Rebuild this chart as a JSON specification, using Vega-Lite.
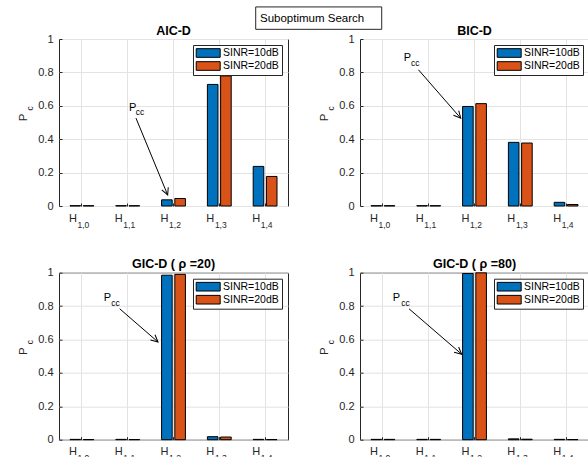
{
  "$schema": "https://vega.github.io/schema/vega-lite/v6.json",
  "background": "white",
  "padding": {"left": 16, "top": 5, "right": 0, "bottom": 0},
  "data": {"values": [
    {"panel": "AIC", "h": "1,0", "sinr": "SINR=10dB", "pc": 0.002},
    {"panel": "AIC", "h": "1,0", "sinr": "SINR=20dB", "pc": 0.002},
    {"panel": "AIC", "h": "1,1", "sinr": "SINR=10dB", "pc": 0.002},
    {"panel": "AIC", "h": "1,1", "sinr": "SINR=20dB", "pc": 0.002},
    {"panel": "AIC", "h": "1,2", "sinr": "SINR=10dB", "pc": 0.037},
    {"panel": "AIC", "h": "1,2", "sinr": "SINR=20dB", "pc": 0.045},
    {"panel": "AIC", "h": "1,3", "sinr": "SINR=10dB", "pc": 0.728},
    {"panel": "AIC", "h": "1,3", "sinr": "SINR=20dB", "pc": 0.779},
    {"panel": "AIC", "h": "1,4", "sinr": "SINR=10dB", "pc": 0.237},
    {"panel": "AIC", "h": "1,4", "sinr": "SINR=20dB", "pc": 0.177},
    {"panel": "BIC", "h": "1,0", "sinr": "SINR=10dB", "pc": 0.002},
    {"panel": "BIC", "h": "1,0", "sinr": "SINR=20dB", "pc": 0.002},
    {"panel": "BIC", "h": "1,1", "sinr": "SINR=10dB", "pc": 0.002},
    {"panel": "BIC", "h": "1,1", "sinr": "SINR=20dB", "pc": 0.002},
    {"panel": "BIC", "h": "1,2", "sinr": "SINR=10dB", "pc": 0.596},
    {"panel": "BIC", "h": "1,2", "sinr": "SINR=20dB", "pc": 0.613},
    {"panel": "BIC", "h": "1,3", "sinr": "SINR=10dB", "pc": 0.381},
    {"panel": "BIC", "h": "1,3", "sinr": "SINR=20dB", "pc": 0.377},
    {"panel": "BIC", "h": "1,4", "sinr": "SINR=10dB", "pc": 0.022},
    {"panel": "BIC", "h": "1,4", "sinr": "SINR=20dB", "pc": 0.009},
    {"panel": "GIC20", "h": "1,0", "sinr": "SINR=10dB", "pc": 0.002},
    {"panel": "GIC20", "h": "1,0", "sinr": "SINR=20dB", "pc": 0.001},
    {"panel": "GIC20", "h": "1,1", "sinr": "SINR=10dB", "pc": 0.002},
    {"panel": "GIC20", "h": "1,1", "sinr": "SINR=20dB", "pc": 0.001},
    {"panel": "GIC20", "h": "1,2", "sinr": "SINR=10dB", "pc": 0.985},
    {"panel": "GIC20", "h": "1,2", "sinr": "SINR=20dB", "pc": 0.99},
    {"panel": "GIC20", "h": "1,3", "sinr": "SINR=10dB", "pc": 0.018},
    {"panel": "GIC20", "h": "1,3", "sinr": "SINR=20dB", "pc": 0.016},
    {"panel": "GIC20", "h": "1,4", "sinr": "SINR=10dB", "pc": 0.002},
    {"panel": "GIC20", "h": "1,4", "sinr": "SINR=20dB", "pc": 0.001},
    {"panel": "GIC80", "h": "1,0", "sinr": "SINR=10dB", "pc": 0.002},
    {"panel": "GIC80", "h": "1,0", "sinr": "SINR=20dB", "pc": 0.002},
    {"panel": "GIC80", "h": "1,1", "sinr": "SINR=10dB", "pc": 0.002},
    {"panel": "GIC80", "h": "1,1", "sinr": "SINR=20dB", "pc": 0.002},
    {"panel": "GIC80", "h": "1,2", "sinr": "SINR=10dB", "pc": 0.995},
    {"panel": "GIC80", "h": "1,2", "sinr": "SINR=20dB", "pc": 0.999},
    {"panel": "GIC80", "h": "1,3", "sinr": "SINR=10dB", "pc": 0.005},
    {"panel": "GIC80", "h": "1,3", "sinr": "SINR=20dB", "pc": 0.003},
    {"panel": "GIC80", "h": "1,4", "sinr": "SINR=10dB", "pc": 0.002},
    {"panel": "GIC80", "h": "1,4", "sinr": "SINR=20dB", "pc": 0.001}
  ]},
  "columns": 2,
  "spacing": {"row": 66.7, "column": 72},
  "bounds": "flush",
  "resolve": {"scale": {"color": "independent"}, "legend": {"color": "independent"}},
  "concat": [
    {
      "width": 229, "height": 167,
      "title": {"text": "AIC-D", "dy": 37},
      "resolve": {"scale": {"x": "independent", "y": "independent"}},
      "layer": [
        {
          "transform": [{"filter": "datum.panel === 'AIC'"}],
          "layer": [
            {
              "mark": {"type": "bar", "stroke": "black", "strokeWidth": 1},
              "encoding": {
                "x": {"field": "h", "type": "nominal", "sort": ["1,0","1,1","1,2","1,3","1,4"], "title": null, "scale": {"paddingInner": 0.48, "paddingOuter": 0.24}, "axis": {"labelExpr": "'H'", "labelAngle": 0, "labelOffset": -9, "grid": true, "bandPosition": 0.5, "ticks": true, "tickSize": -3, "labelPadding": 9, "labelBaseline": "top"}},
                "xOffset": {"field": "sinr", "type": "nominal", "scale": {"paddingInner": 0.2, "paddingOuter": 0}},
                "y": {"field": "pc", "type": "quantitative", "title": "P", "scale": {"domain": [0, 1], "nice": false}, "axis": {"values": [0, 0.2, 0.4, 0.6, 0.8, 1], "format": "~g", "labelOverlap": false, "labelFlush": false, "grid": true, "ticks": true, "tickSize": -3, "labelPadding": 9, "titleAngle": 270, "titleX": -33, "titleY": 78, "titleAlign": "center", "titleBaseline": "alphabetic", "titleFontSize": 11.5}},
                "color": {"field": "sinr", "type": "nominal", "title": null, "scale": {"domain": ["SINR=10dB", "SINR=20dB"], "range": ["#0072BD", "#D95319"]}, "legend": {"orient": "top-right"}}
              }
            },
            {
              "transform": [{"filter": "datum.sinr === 'SINR=10dB'"}],
              "mark": {"type": "text", "dy": 21.5, "dx": 1.5, "fontSize": 8.5, "baseline": "alphabetic", "align": "center", "color": "#262626"},
              "encoding": {"x": {"field": "h", "type": "nominal", "sort": ["1,0","1,1","1,2","1,3","1,4"]}, "y": {"datum": 0, "type": "quantitative", "title": "P", "axis": {"values": [0, 0.2, 0.4, 0.6, 0.8, 1], "format": "~g", "labelOverlap": false, "labelFlush": false, "grid": true, "ticks": true, "tickSize": -3, "labelPadding": 9, "titleAngle": 270, "titleX": -33, "titleY": 78, "titleAlign": "center", "titleBaseline": "alphabetic", "titleFontSize": 11.5}}, "text": {"field": "h"}}
            }
          ]
        },
        {
          "data": {"values": [{}]},
          "layer": [
            {"mark": {"type": "rect", "fill": "white", "stroke": "#262626", "strokeWidth": 1},
             "encoding": {"x": {"datum": 4.795, "type": "quantitative", "scale": {"domain": [0.5, 5.5], "nice": false, "zero": false}, "axis": null}, "x2": {"datum": 7.546}, "y": {"datum": 1.192, "type": "quantitative", "scale": {"domain": [0, 1], "nice": false, "zero": false}, "axis": null}, "y2": {"datum": 1.058}}},
            {"mark": {"type": "text", "text": "Suboptimum Search", "fontSize": 11.5, "align": "left", "baseline": "alphabetic", "color": "black"},
             "encoding": {"x": {"datum": 4.889, "type": "quantitative"}, "y": {"datum": 1.102, "type": "quantitative"}}},
            {"mark": {"type": "rule", "color": "black", "strokeWidth": 1},
             "encoding": {"x": {"datum": 2.181, "type": "quantitative"}, "y": {"datum": 0.526, "type": "quantitative"}, "x2": {"datum": 2.873}, "y2": {"datum": 0.066}}},
            {"mark": {"type": "point", "shape": "M-0.5,-1L0,0L0.5,-1", "filled": false, "color": "black", "strokeWidth": 1, "size": 196, "angle": -22.5, "opacity": 1},
             "encoding": {"x": {"datum": 2.873, "type": "quantitative"}, "y": {"datum": 0.066, "type": "quantitative"}}},
            {"mark": {"type": "text", "text": "P", "fontSize": 11, "align": "center", "baseline": "alphabetic", "color": "black"},
             "encoding": {"x": {"datum": 2.109, "type": "quantitative"}, "y": {"datum": 0.566, "type": "quantitative"}}},
            {"mark": {"type": "text", "text": "cc", "fontSize": 8.5, "align": "left", "baseline": "alphabetic", "color": "black"},
             "encoding": {"x": {"datum": 2.175, "type": "quantitative"}, "y": {"datum": 0.542, "type": "quantitative"}}},
            {"mark": {"type": "text", "text": "c", "fontSize": 8.5, "angle": 270, "align": "center", "baseline": "middle", "color": "#262626"},
             "encoding": {"x": {"datum": -0.14, "type": "quantitative"}, "y": {"datum": 0.585, "type": "quantitative"}}}
          ]
        }
      ]
    },
    {
      "width": 229, "height": 167,
      "title": {"text": "BIC-D", "dy": 10},
      "resolve": {"scale": {"x": "independent", "y": "independent"}},
      "layer": [
        {
          "transform": [{"filter": "datum.panel === 'BIC'"}],
          "layer": [
            {
              "mark": {"type": "bar", "stroke": "black", "strokeWidth": 1},
              "encoding": {
                "x": {"field": "h", "type": "nominal", "sort": ["1,0","1,1","1,2","1,3","1,4"], "title": null, "scale": {"paddingInner": 0.48, "paddingOuter": 0.24}, "axis": {"labelExpr": "'H'", "labelAngle": 0, "labelOffset": -9, "grid": true, "bandPosition": 0.5, "ticks": true, "tickSize": -3, "labelPadding": 9, "labelBaseline": "top"}},
                "xOffset": {"field": "sinr", "type": "nominal", "scale": {"paddingInner": 0.2, "paddingOuter": 0}},
                "y": {"field": "pc", "type": "quantitative", "title": "P", "scale": {"domain": [0, 1], "nice": false}, "axis": {"values": [0, 0.2, 0.4, 0.6, 0.8, 1], "format": "~g", "labelOverlap": false, "labelFlush": false, "grid": true, "ticks": true, "tickSize": -3, "labelPadding": 9, "titleAngle": 270, "titleX": -33, "titleY": 78, "titleAlign": "center", "titleBaseline": "alphabetic", "titleFontSize": 11.5}},
                "color": {"field": "sinr", "type": "nominal", "title": null, "scale": {"domain": ["SINR=10dB", "SINR=20dB"], "range": ["#0072BD", "#D95319"]}, "legend": {"orient": "top-right"}}
              }
            },
            {
              "transform": [{"filter": "datum.sinr === 'SINR=10dB'"}],
              "mark": {"type": "text", "dy": 21.5, "dx": 1.5, "fontSize": 8.5, "baseline": "alphabetic", "align": "center", "color": "#262626"},
              "encoding": {"x": {"field": "h", "type": "nominal", "sort": ["1,0","1,1","1,2","1,3","1,4"]}, "y": {"datum": 0, "type": "quantitative", "title": "P", "axis": {"values": [0, 0.2, 0.4, 0.6, 0.8, 1], "format": "~g", "labelOverlap": false, "labelFlush": false, "grid": true, "ticks": true, "tickSize": -3, "labelPadding": 9, "titleAngle": 270, "titleX": -33, "titleY": 78, "titleAlign": "center", "titleBaseline": "alphabetic", "titleFontSize": 11.5}}, "text": {"field": "h"}}
            }
          ]
        },
        {
          "data": {"values": [{}]},
          "layer": [
            {"mark": {"type": "rule", "color": "black", "strokeWidth": 1},
             "encoding": {"x": {"datum": 1.775, "type": "quantitative", "scale": {"domain": [0.5, 5.5], "nice": false, "zero": false}, "axis": null}, "y": {"datum": 0.816, "type": "quantitative", "scale": {"domain": [0, 1], "nice": false, "zero": false}, "axis": null}, "x2": {"datum": 2.699}, "y2": {"datum": 0.526}}},
            {"mark": {"type": "point", "shape": "M-0.5,-1L0,0L0.5,-1", "filled": false, "color": "black", "strokeWidth": 1, "size": 196, "angle": -41.2, "opacity": 1},
             "encoding": {"x": {"datum": 2.699, "type": "quantitative"}, "y": {"datum": 0.526, "type": "quantitative"}}},
            {"mark": {"type": "text", "text": "P", "fontSize": 11, "align": "center", "baseline": "alphabetic", "color": "black"},
             "encoding": {"x": {"datum": 1.535, "type": "quantitative"}, "y": {"datum": 0.866, "type": "quantitative"}}},
            {"mark": {"type": "text", "text": "cc", "fontSize": 8.5, "align": "left", "baseline": "alphabetic", "color": "black"},
             "encoding": {"x": {"datum": 1.614, "type": "quantitative"}, "y": {"datum": 0.836, "type": "quantitative"}}},
            {"mark": {"type": "text", "text": "c", "fontSize": 8.5, "angle": 270, "align": "center", "baseline": "middle", "color": "#262626"},
             "encoding": {"x": {"datum": -0.14, "type": "quantitative"}, "y": {"datum": 0.585, "type": "quantitative"}}}
          ]
        }
      ]
    },
    {
      "width": 229, "height": 167,
      "title": {"text": "GIC-D  ( ρ =20)", "dy": 9.5},
      "resolve": {"scale": {"x": "independent", "y": "independent"}},
      "layer": [
        {
          "transform": [{"filter": "datum.panel === 'GIC20'"}],
          "layer": [
            {
              "mark": {"type": "bar", "stroke": "black", "strokeWidth": 1},
              "encoding": {
                "x": {"field": "h", "type": "nominal", "sort": ["1,0","1,1","1,2","1,3","1,4"], "title": null, "scale": {"paddingInner": 0.48, "paddingOuter": 0.24}, "axis": {"labelExpr": "'H'", "labelAngle": 0, "labelOffset": -9, "grid": true, "bandPosition": 0.5, "ticks": true, "tickSize": -3, "labelPadding": 9, "labelBaseline": "top"}},
                "xOffset": {"field": "sinr", "type": "nominal", "scale": {"paddingInner": 0.2, "paddingOuter": 0}},
                "y": {"field": "pc", "type": "quantitative", "title": "P", "scale": {"domain": [0, 1], "nice": false}, "axis": {"values": [0, 0.2, 0.4, 0.6, 0.8, 1], "format": "~g", "labelOverlap": false, "labelFlush": false, "grid": true, "ticks": true, "tickSize": -3, "labelPadding": 9, "titleAngle": 270, "titleX": -33, "titleY": 78, "titleAlign": "center", "titleBaseline": "alphabetic", "titleFontSize": 11.5}},
                "color": {"field": "sinr", "type": "nominal", "title": null, "scale": {"domain": ["SINR=10dB", "SINR=20dB"], "range": ["#0072BD", "#D95319"]}, "legend": {"orient": "top-right"}}
              }
            },
            {
              "transform": [{"filter": "datum.sinr === 'SINR=10dB'"}],
              "mark": {"type": "text", "dy": 21.5, "dx": 1.5, "fontSize": 8.5, "baseline": "alphabetic", "align": "center", "color": "#262626"},
              "encoding": {"x": {"field": "h", "type": "nominal", "sort": ["1,0","1,1","1,2","1,3","1,4"]}, "y": {"datum": 0, "type": "quantitative", "title": "P", "axis": {"values": [0, 0.2, 0.4, 0.6, 0.8, 1], "format": "~g", "labelOverlap": false, "labelFlush": false, "grid": true, "ticks": true, "tickSize": -3, "labelPadding": 9, "titleAngle": 270, "titleX": -33, "titleY": 78, "titleAlign": "center", "titleBaseline": "alphabetic", "titleFontSize": 11.5}}, "text": {"field": "h"}}
            }
          ]
        },
        {
          "data": {"values": [{}]},
          "layer": [
            {"mark": {"type": "rule", "color": "black", "strokeWidth": 1},
             "encoding": {"x": {"datum": 1.825, "type": "quantitative", "scale": {"domain": [0.5, 5.5], "nice": false, "zero": false}, "axis": null}, "y": {"datum": 0.784, "type": "quantitative", "scale": {"domain": [0, 1], "nice": false, "zero": false}, "axis": null}, "x2": {"datum": 2.662}, "y2": {"datum": 0.585}}},
            {"mark": {"type": "point", "shape": "M-0.5,-1L0,0L0.5,-1", "filled": false, "color": "black", "strokeWidth": 1, "size": 196, "angle": -49.2, "opacity": 1},
             "encoding": {"x": {"datum": 2.662, "type": "quantitative"}, "y": {"datum": 0.585, "type": "quantitative"}}},
            {"mark": {"type": "text", "text": "P", "fontSize": 11, "align": "center", "baseline": "alphabetic", "color": "black"},
             "encoding": {"x": {"datum": 1.557, "type": "quantitative"}, "y": {"datum": 0.83, "type": "quantitative"}}},
            {"mark": {"type": "text", "text": "cc", "fontSize": 8.5, "align": "left", "baseline": "alphabetic", "color": "black"},
             "encoding": {"x": {"datum": 1.64, "type": "quantitative"}, "y": {"datum": 0.8, "type": "quantitative"}}},
            {"mark": {"type": "text", "text": "c", "fontSize": 8.5, "angle": 270, "align": "center", "baseline": "middle", "color": "#262626"},
             "encoding": {"x": {"datum": -0.14, "type": "quantitative"}, "y": {"datum": 0.585, "type": "quantitative"}}}
          ]
        }
      ]
    },
    {
      "width": 229, "height": 167,
      "title": {"text": "GIC-D  ( ρ =80)", "dy": 9.5},
      "resolve": {"scale": {"x": "independent", "y": "independent"}},
      "layer": [
        {
          "transform": [{"filter": "datum.panel === 'GIC80'"}],
          "layer": [
            {
              "mark": {"type": "bar", "stroke": "black", "strokeWidth": 1},
              "encoding": {
                "x": {"field": "h", "type": "nominal", "sort": ["1,0","1,1","1,2","1,3","1,4"], "title": null, "scale": {"paddingInner": 0.48, "paddingOuter": 0.24}, "axis": {"labelExpr": "'H'", "labelAngle": 0, "labelOffset": -9, "grid": true, "bandPosition": 0.5, "ticks": true, "tickSize": -3, "labelPadding": 9, "labelBaseline": "top"}},
                "xOffset": {"field": "sinr", "type": "nominal", "scale": {"paddingInner": 0.2, "paddingOuter": 0}},
                "y": {"field": "pc", "type": "quantitative", "title": "P", "scale": {"domain": [0, 1], "nice": false}, "axis": {"values": [0, 0.2, 0.4, 0.6, 0.8, 1], "format": "~g", "labelOverlap": false, "labelFlush": false, "grid": true, "ticks": true, "tickSize": -3, "labelPadding": 9, "titleAngle": 270, "titleX": -33, "titleY": 78, "titleAlign": "center", "titleBaseline": "alphabetic", "titleFontSize": 11.5}},
                "color": {"field": "sinr", "type": "nominal", "title": null, "scale": {"domain": ["SINR=10dB", "SINR=20dB"], "range": ["#0072BD", "#D95319"]}, "legend": {"orient": "top-right"}}
              }
            },
            {
              "transform": [{"filter": "datum.sinr === 'SINR=10dB'"}],
              "mark": {"type": "text", "dy": 21.5, "dx": 1.5, "fontSize": 8.5, "baseline": "alphabetic", "align": "center", "color": "#262626"},
              "encoding": {"x": {"field": "h", "type": "nominal", "sort": ["1,0","1,1","1,2","1,3","1,4"]}, "y": {"datum": 0, "type": "quantitative", "title": "P", "axis": {"values": [0, 0.2, 0.4, 0.6, 0.8, 1], "format": "~g", "labelOverlap": false, "labelFlush": false, "grid": true, "ticks": true, "tickSize": -3, "labelPadding": 9, "titleAngle": 270, "titleX": -33, "titleY": 78, "titleAlign": "center", "titleBaseline": "alphabetic", "titleFontSize": 11.5}}, "text": {"field": "h"}}
            }
          ]
        },
        {
          "data": {"values": [{}]},
          "layer": [
            {"mark": {"type": "rule", "color": "black", "strokeWidth": 1},
             "encoding": {"x": {"datum": 1.57, "type": "quantitative", "scale": {"domain": [0.5, 5.5], "nice": false, "zero": false}, "axis": null}, "y": {"datum": 0.784, "type": "quantitative", "scale": {"domain": [0, 1], "nice": false, "zero": false}, "axis": null}, "x2": {"datum": 2.72}, "y2": {"datum": 0.512}}},
            {"mark": {"type": "point", "shape": "M-0.5,-1L0,0L0.5,-1", "filled": false, "color": "black", "strokeWidth": 1, "size": 196, "angle": -49.3, "opacity": 1},
             "encoding": {"x": {"datum": 2.72, "type": "quantitative"}, "y": {"datum": 0.512, "type": "quantitative"}}},
            {"mark": {"type": "text", "text": "P", "fontSize": 11, "align": "center", "baseline": "alphabetic", "color": "black"},
             "encoding": {"x": {"datum": 1.293, "type": "quantitative"}, "y": {"datum": 0.83, "type": "quantitative"}}},
            {"mark": {"type": "text", "text": "cc", "fontSize": 8.5, "align": "left", "baseline": "alphabetic", "color": "black"},
             "encoding": {"x": {"datum": 1.4, "type": "quantitative"}, "y": {"datum": 0.8, "type": "quantitative"}}},
            {"mark": {"type": "text", "text": "c", "fontSize": 8.5, "angle": 270, "align": "center", "baseline": "middle", "color": "#262626"},
             "encoding": {"x": {"datum": -0.14, "type": "quantitative"}, "y": {"datum": 0.585, "type": "quantitative"}}}
          ]
        }
      ]
    }
  ],
  "config": {
    "font": "Liberation Sans",
    "view": {"stroke": "#262626", "strokeWidth": 1},
    "axis": {"labelFont": "Liberation Sans", "labelFontSize": 11, "labelColor": "#262626", "titleFont": "Liberation Sans", "titleFontWeight": "normal", "titleColor": "#262626", "gridColor": "#e3e3e3", "gridWidth": 1, "domain": false, "tickColor": "#262626", "labelOverlap": false},
    "axisY": {"labelOverlap": false, "labelFlush": false},
    "title": {"font": "Liberation Sans", "fontSize": 12.5, "fontWeight": "bold", "color": "black", "offset": 6, "baseline": "alphabetic", "frame": "group", "anchor": "middle"},
    "text": {"font": "Liberation Sans"},
    "legend": {"offset": 6, "padding": 2.5, "strokeColor": "#262626", "fillColor": "white", "symbolType": "M-1,-0.9H4V0.9H-1Z", "symbolSize": 92, "symbolStrokeColor": "black", "symbolStrokeWidth": 1, "symbolOpacity": 1, "labelFont": "Liberation Sans", "labelFontSize": 10.5, "labelColor": "black", "labelOffset": 16.5, "rowPadding": 0}
  }
}
